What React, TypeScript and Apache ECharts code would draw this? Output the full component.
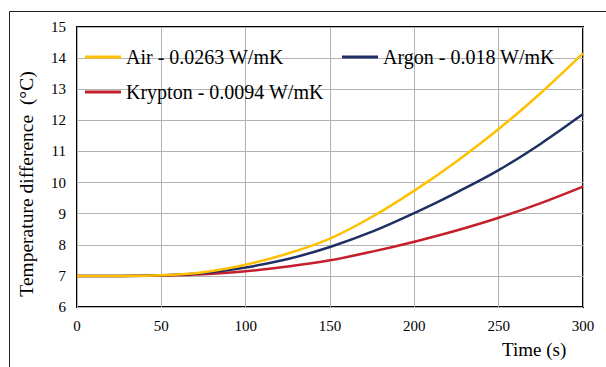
import React, { useEffect, useRef } from "react";
import * as echarts from "echarts";

const times = [0, 25, 50, 75, 100, 125, 150, 175, 200, 225, 250, 275, 300];
const airValues = [7, 7, 7.02, 7.12, 7.36, 7.72, 8.2, 8.9, 9.74, 10.68, 11.72, 12.88, 14.15];
const argonValues = [7, 7, 7.02, 7.09, 7.27, 7.54, 7.93, 8.42, 9.02, 9.68, 10.4, 11.25, 12.2];
const kryptonValues = [7, 7, 7.01, 7.05, 7.15, 7.3, 7.5, 7.78, 8.1, 8.46, 8.87, 9.34, 9.87];
const seriesNames = ["Air - 0.0263 W/mK", "Argon - 0.018 W/mK", "Krypton - 0.0094 W/mK"];
const colors = ["#FFC000", "#1F2F66", "#C41F2A"];

const FONT = "Liberation Serif, Times New Roman, DejaVu Serif, serif";

export default function App() {
  const ref = useRef<HTMLDivElement>(null);
  useEffect(() => {
    if (!ref.current) return;
    const chart = echarts.init(ref.current, undefined, { renderer: "svg" });
    const toPairs = (vals: number[]) => times.map((t, i) => [t, vals[i]]);
    const allValues = [airValues, argonValues, kryptonValues];
    const legendBase = {
      orient: "horizontal",
      padding: 0,
      itemWidth: 36,
      itemHeight: 14,
      itemGap: 10,
      selectedMode: false,
      textStyle: { fontFamily: FONT, fontSize: 20, color: "#000" },
      icon: "path://M0,0 L36,0 L36,3 L0,3 Z",
    };
    chart.setOption({
      animation: false,
      backgroundColor: "#fff",
      textStyle: { fontFamily: FONT },
      grid: {
        left: 77,
        top: 27,
        right: 23,
        bottom: 60,
        show: true,
        borderColor: "#000",
        borderWidth: 2,
        backgroundColor: "transparent",
      },
      legend: [
        { ...legendBase, left: 85, top: 47, data: [seriesNames[0]] },
        { ...legendBase, left: 342, top: 47, data: [seriesNames[1]] },
        { ...legendBase, left: 85, top: 82, data: [seriesNames[2]] },
      ],
      xAxis: {
        type: "value",
        min: 0,
        max: 300,
        interval: 50,
        axisLine: { show: false },
        axisTick: { show: false },
        axisLabel: { fontFamily: FONT, fontSize: 15, color: "#000", margin: 11 },
        splitLine: { show: true, lineStyle: { color: "#b3b3b3", width: 1 } },
      },
      yAxis: {
        type: "value",
        min: 6,
        max: 15,
        interval: 1,
        axisLine: { show: false },
        axisTick: { show: false },
        axisLabel: { fontFamily: FONT, fontSize: 15, color: "#000", margin: 11 },
        splitLine: { show: true, lineStyle: { color: "#b3b3b3", width: 1 } },
      },
      series: allValues.map((vals, i) => ({
        name: seriesNames[i],
        type: "line",
        data: toPairs(vals),
        smooth: 0.35,
        symbol: "none",
        lineStyle: { color: colors[i], width: 2.5 },
        itemStyle: { color: colors[i] },
        z: 3 - i,
      })),
      graphic: [
        {
          type: "rect",
          left: 7,
          top: 9,
          shape: { width: 700, height: 500 },
          style: { fill: "none", stroke: "#222", lineWidth: 1 },
          silent: true,
        },
        {
          type: "text",
          x: 26,
          y: 184,
          rotation: Math.PI / 2,
          style: {
            text: "Temperature difference\u00A0\u00A0(\u00B0C)",
            fontFamily: FONT,
            fontSize: 19.5,
            fill: "#000",
            align: "center",
            verticalAlign: "middle",
          },
        },
        {
          type: "text",
          left: 502,
          top: 340,
          style: { text: "Time (s)", fontFamily: FONT, fontSize: 19, fill: "#000" },
        },
      ],
    });
    return () => chart.dispose();
  }, []);
  return (
    <div
      ref={ref}
      style={{ position: "fixed", left: 0, top: 0, width: 606, height: 367 }}
    />
  );
}
